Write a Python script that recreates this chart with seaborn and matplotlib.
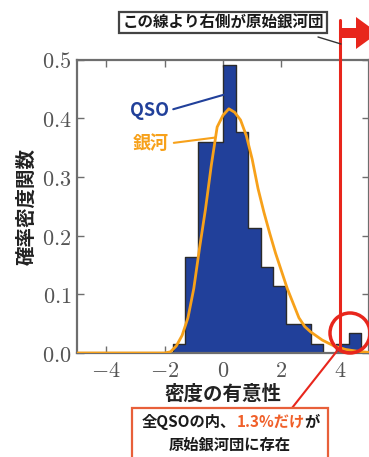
import matplotlib
matplotlib.use("Agg")
import matplotlib.pyplot as plt
import matplotlib.patches as mpatches
import matplotlib.transforms as mtransforms
from matplotlib.lines import Line2D
import numpy as np
import seaborn as sns

# QSO environment: probability density of overdensity significance per bin
bin_edges = [-1.72, -1.29, -0.86, -0.43, 0.0, 0.43, 0.86, 1.29, 1.72,
             2.15, 2.58, 3.01, 3.44, 3.87, 4.30, 4.73]
qso_density = [0.015, 0.163, 0.359, 0.359, 0.490, 0.376, 0.213, 0.146,
               0.114, 0.049, 0.049, 0.015, 0.0, 0.015, 0.034]

# Galaxy environment: smooth probability density curve
galaxy_sigma = [-5.0, -2.0, -1.8, -1.6, -1.4, -1.2, -1.0, -0.8, -0.6, -0.4,
                -0.2, 0.0, 0.2, 0.4, 0.6, 0.8, 1.0, 1.2, 1.4, 1.6, 1.8,
                2.0, 2.2, 2.4, 2.6, 2.8, 3.0, 3.4, 3.8, 4.2, 4.6, 5.0]
galaxy_density = [0.0, 0.0, 0.002, 0.012, 0.030, 0.060, 0.110, 0.180, 0.245,
                  0.320, 0.385, 0.405, 0.416, 0.410, 0.397, 0.370, 0.330,
                  0.280, 0.240, 0.204, 0.170, 0.140, 0.110, 0.085, 0.060,
                  0.045, 0.036, 0.022, 0.012, 0.006, 0.003, 0.001]

threshold = 4.0
x_ticks = [-4, -2, 0, 2, 4]
x_tick_labels = [r"$-4$", r"$-2$", r"$0$", r"$2$", r"$4$"]
y_ticks = [0.0, 0.1, 0.2, 0.3, 0.4, 0.5]
y_tick_labels = [r"$0.0$", r"$0.1$", r"$0.2$", r"$0.3$", r"$0.4$", r"$0.5$"]

BLUE = "#21409a"
ORANGE = "#f7a11a"
RED = "#e8261c"
GRAY = "#6e6e6e"
CJK = ["Noto Sans CJK JP", "DejaVu Sans"]

sns.set_style("ticks")
plt.rcParams["font.family"] = CJK
plt.rcParams["mathtext.fontset"] = "cm"

W, H = 369, 457
fig = plt.figure(figsize=(W / 100, H / 100), dpi=100)
ax = fig.add_axes([77 / W, 104 / H, 292 / W, 293.5 / H])
# top-left based pixel coordinates for the callouts
px = mtransforms.Affine2D().scale(1 / W, -1 / H).translate(0, 1) + fig.transFigure

centers = (np.array(bin_edges[:-1]) + np.array(bin_edges[1:])) / 2
sns.histplot(x=centers, weights=qso_density, bins=bin_edges, stat="count",
             element="step", fill=True, color=BLUE, edgecolor="#2b2b2b",
             linewidth=1.0, alpha=1.0, ax=ax, zorder=2)
sns.lineplot(x=galaxy_sigma, y=galaxy_density, color=ORANGE, lw=2.0,
             sort=False, estimator=None, ax=ax, zorder=3)

ax.set_xlim(-5, 5)
ax.set_ylim(0, 0.5)
ax.set_xticks(x_ticks, x_tick_labels)
ax.set_yticks(y_ticks, y_tick_labels)
ax.tick_params(direction="in", top=True, right=True, length=5, width=1.0,
               color=GRAY, labelcolor="#555555", labelsize=16, pad=4)
for sp in ax.spines.values():
    sp.set_visible(True)
    sp.set_color(GRAY)
    sp.set_linewidth(1.6)

ax.set_xlabel("密度の有意性", fontsize=14, fontweight="bold", color="#222222",
              labelpad=2)
ax.set_ylabel("確率密度関数", fontsize=14, fontweight="bold", color="#222222",
              labelpad=4)

# series labels
ax.annotate("QSO", xy=(0.03, 0.44), xytext=(-2.53, 0.413),
            ha="center", va="center", fontsize=13, fontweight="bold", color=BLUE,
            arrowprops=dict(arrowstyle="-", color=BLUE, lw=1.5,
                            relpos=(1.0, 0.5), shrinkA=1, shrinkB=0), zorder=5)
ax.annotate("銀河", xy=(-0.27, 0.367), xytext=(-2.46, 0.357),
            ha="center", va="center", fontsize=13, fontweight="bold", color=ORANGE,
            arrowprops=dict(arrowstyle="-", color=ORANGE, lw=1.5,
                            relpos=(1.0, 0.5), shrinkA=1, shrinkB=0), zorder=5)

# threshold marker
thr_px = ax.transData.transform((threshold, 0))[0]
fig.add_artist(Line2D([thr_px, thr_px], [H - 20, H - 350], color=RED, lw=2.2,
                      transform=mtransforms.IdentityTransform(), zorder=6))
fig.add_artist(mpatches.Polygon(
    [(342, 28), (356, 28), (356, 17), (378, 33), (356, 49), (356, 38), (342, 38)],
    closed=True, facecolor=RED, edgecolor="none", transform=px, zorder=6))
fig.add_artist(mpatches.Circle((350, 333), 20, facecolor="none", edgecolor=RED,
                               lw=2.5, transform=px, zorder=7))
fig.add_artist(Line2D([337, 292], [351, 408], color=RED, lw=1.5,
                      transform=px, zorder=6))

# top callout box
fig.add_artist(Line2D([318, 341], [37, 44], color="#333333", lw=1.0,
                      transform=px, zorder=6))
fig.text(223, 22.5, "この線より右側が原始銀河団", transform=px, ha="center",
         va="center", fontsize=11.2, fontweight="bold", color="#1a1a1a",
         bbox=dict(boxstyle="square,pad=0.18", facecolor="white",
                   edgecolor="#444444", lw=1.6), zorder=8)

# bottom callout box
fig.add_artist(mpatches.Rectangle((132, 408), 196, 70, facecolor="white",
                                  edgecolor="#e8603a", lw=1.6, transform=px,
                                  zorder=8))
parts = [("全QSOの内、", "#1a1a1a"), ("1.3%だけ", "#f0602a"), ("が", "#1a1a1a")]
objs = [fig.text(0, 422, s, transform=px, ha="left", va="center", fontsize=11,
                 fontweight="bold", color=c, zorder=9) for s, c in parts]
renderer = fig.canvas.get_renderer()
widths = [t.get_window_extent(renderer).width for t in objs]
x0 = 231 - sum(widths) / 2
for t, w in zip(objs, widths):
    t.set_x(x0)
    x0 += w
fig.text(230, 445, "原始銀河団に存在", transform=px, ha="center", va="center",
         fontsize=11, fontweight="bold", color="#1a1a1a", zorder=9)

fig.savefig("out.png", dpi=100)
